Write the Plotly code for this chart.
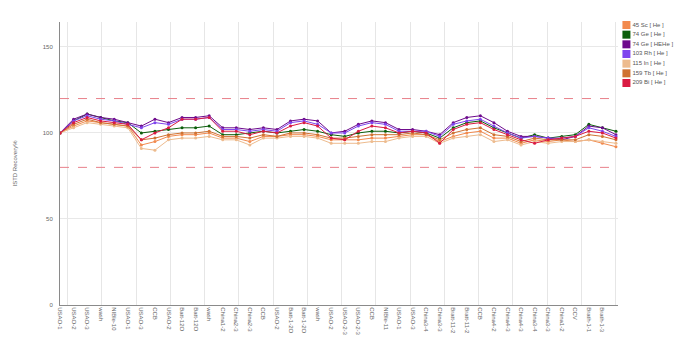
import plotly.graph_objects as go

sample_labels = [
    "USAO-1", "USAO-2", "USAO-3", "wash", "NIBle-10", "USAO-1", "USAO-3", "CCB",
    "USAO-2", "Batt-12O", "Batt-12O", "wash", "China1-2", "China2-3", "China2-3",
    "CCB", "USAO-2", "Batt-1-2O", "Batt-1-2O", "wash", "USAO-2", "USAO-2-3",
    "USAO-2-3", "CCB", "NIBle-11", "USAO-1", "USAO-3", "China3-4", "China3-3",
    "Bratt-11-2", "Bratt-11-2", "CCB", "China4-2", "China4-3", "China4-3",
    "China3-4", "China3-3", "China1-2", "CCV", "Brath-1-1", "Brath-1-3",
]

series_names = [
    "45 Sc [ He ]", "74 Ge [ He ]", "74 Ge [ HEHe ]", "103 Rh [ He ]",
    "115 In [ He ]", "159 Tb [ He ]", "209 Bi [ He ]",
]
series_colors = ["#F28A4E", "#0B5E0B", "#6E0A8C", "#7F45EE", "#EDBB8E", "#CF7232", "#DA1B42"]

sc45 = [100, 104, 107, 106, 105, 104, 93, 95, 98, 99, 99, 100, 97, 97, 95, 98, 98, 99, 99, 98, 96,
        96, 96, 97, 97, 98, 99, 99, 95, 98, 100, 101, 97, 97, 94, 96, 95, 96, 95, 96, 94, 92]
ge74_he = [100, 107, 111, 109, 107, 106, 100, 101, 102, 103, 103, 104, 99, 99, 100, 101, 100, 101, 102, 101, 99,
           98, 100, 101, 101, 100, 101, 100, 97, 103, 106, 107, 103, 100, 97, 99, 97, 98, 99, 105, 103, 101]
ge74_hehe = [100, 108, 111, 109, 108, 106, 104, 108, 106, 109, 109, 110, 103, 103, 102, 103, 102, 107, 108, 107, 100,
             101, 105, 107, 106, 102, 102, 101, 99, 106, 109, 110, 106, 101, 98, 98, 97, 96, 98, 104, 103, 99]
rh103 = [100, 107, 110, 108, 107, 105, 103, 106, 105, 108, 108, 109, 102, 102, 101, 102, 101, 106, 107, 105, 100,
         100, 104, 106, 105, 101, 101, 101, 98, 105, 107, 108, 104, 100, 97, 98, 97, 97, 98, 103, 101, 98]
in115 = [100, 103, 106, 105, 104, 103, 91, 90, 96, 97, 97, 98, 96, 96, 93, 97, 97, 98, 98, 97, 94,
         94, 94, 95, 95, 97, 98, 98, 94, 97, 98, 99, 95, 96, 93, 95, 94, 95, 95, 96, 95, 94]
tb159 = [100, 105, 108, 106, 105, 104, 96, 97, 99, 100, 100, 101, 98, 98, 97, 99, 98, 100, 100, 99, 97,
         97, 98, 99, 99, 99, 100, 99, 96, 100, 102, 103, 99, 98, 95, 97, 96, 96, 96, 99, 98, 96]
bi209 = [100, 106, 109, 107, 106, 105, 96, 100, 103, 108, 108, 109, 101, 101, 99, 101, 100, 104, 106, 104, 97,
         96, 101, 104, 103, 100, 101, 100, 94, 102, 105, 106, 102, 99, 96, 94, 96, 97, 98, 101, 100, 97]

series_values = [sc45, ge74_he, ge74_hehe, rh103, in115, tb159, bi209]
limit_lines = [120, 80]
y_ticks = [0, 50, 100, 150]

font_family = "Liberation Sans, Arial, sans-serif"
fig = go.Figure()

x_idx = list(range(len(sc45)))
for name, color, vals in zip(series_names, series_colors, series_values):
    fig.add_trace(go.Scatter(
        x=x_idx, y=vals, name=name, mode="lines+markers",
        line=dict(color=color, width=1), marker=dict(color=color, size=3),
        showlegend=False, xaxis="x", yaxis="y",
    ))

# compact legend drawn as a scatter on its own little axis
n = len(series_names)
fig.add_trace(go.Scatter(
    x=[0] * n, y=list(range(n - 1, -1, -1)), mode="markers+text",
    text=series_names, textposition="middle right",
    textfont=dict(size=6, color="#555", family=font_family),
    marker=dict(symbol="square", size=8, color=series_colors),
    showlegend=False, hoverinfo="skip", xaxis="x3", yaxis="y3", cliponaxis=False,
))

for v in limit_lines:
    fig.add_shape(type="line", xref="x domain", yref="y", x0=0, x1=0.985, y0=v, y1=v,
                  line=dict(color="#E8808A", width=1, dash="dash"), layer="above")

plot_w = 635.0
fig.update_layout(
    width=687, height=341,
    margin=dict(l=52, r=0, t=14, b=44),
    paper_bgcolor="white", plot_bgcolor="white",
    font=dict(family=font_family, size=6, color="#666"),
    xaxis=dict(
        domain=[0, 558 / plot_w], range=[0, 41.15],
        tickmode="array", tickvals=list(range(len(sample_labels))), ticktext=sample_labels,
        tickangle=90, tickfont=dict(size=6, color="#666"),
        showgrid=False, zeroline=False, showline=True, linecolor="#8a8a8a", linewidth=1,
        ticks="",
        minor=dict(tickmode="linear", tick0=3.09, dtick=2.526, showgrid=True,
                   gridcolor="#e6e6e6", gridwidth=1, ticks=""),
    ),
    yaxis=dict(
        range=[0, 164.5], tickvals=y_ticks, tickfont=dict(size=6, color="#666"),
        ticklabelstandoff=5,
        showgrid=True, gridcolor="#e8e8e8", zeroline=False,
        showline=True, linecolor="#8a8a8a", linewidth=1, ticks="",
        title=dict(text="ISTD Recovery%", font=dict(size=6, color="#666"), standoff=24),
    ),
    xaxis3=dict(domain=[563 / plot_w, 1], range=[-0.5, 10], visible=False, anchor="y3", fixedrange=True),
    yaxis3=dict(domain=[0.75, 1.0], range=[-1.01, 6.31], visible=False, anchor="x3", fixedrange=True),
)

fig.write_html("out.html")
